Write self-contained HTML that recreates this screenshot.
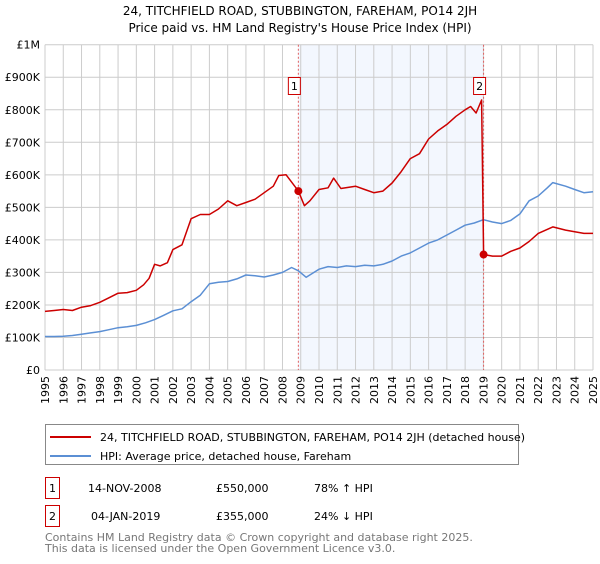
<!DOCTYPE html>
<html><head><meta charset="utf-8"><style>
body{margin:0;background:#fff;font-family:"DejaVu Sans","Liberation Sans",sans-serif;}
svg text{font-family:"DejaVu Sans","Liberation Sans",sans-serif;}
</style></head><body>
<svg id="chart" width="600" height="560" xmlns="http://www.w3.org/2000/svg">
<text x="300" y="15" text-anchor="middle" font-size="12" fill="#000">24, TITCHFIELD ROAD, STUBBINGTON, FAREHAM, PO14 2JH</text>
<text x="300" y="32" text-anchor="middle" font-size="12" fill="#000">Price paid vs. HM Land Registry's House Price Index (HPI)</text>
<g id="plot"></g>
<g>
<rect x="45.5" y="424.5" width="473" height="40" fill="#fff" stroke="#888"/>
<line x1="50" y1="437" x2="91" y2="437" stroke="#cc0000" stroke-width="2"/>
<text x="100" y="441" font-size="11">24, TITCHFIELD ROAD, STUBBINGTON, FAREHAM, PO14 2JH (detached house)</text>
<line x1="50" y1="456" x2="91" y2="456" stroke="#5b8fd4" stroke-width="2"/>
<text x="100" y="460" font-size="11">HPI: Average price, detached house, Fareham</text>
</g>
<g font-size="11">
<rect x="45.5" y="477.5" width="14" height="21" fill="#fff" stroke="#cc0000"/>
<text x="52.5" y="492" text-anchor="middle">1</text>
<text x="88" y="492">14-NOV-2008</text><text x="216" y="492">£550,000</text><text x="314" y="492">78% ↑ HPI</text>
<rect x="45.5" y="505.5" width="14" height="21" fill="#fff" stroke="#cc0000"/>
<text x="52.5" y="520" text-anchor="middle">2</text>
<text x="91" y="520">04-JAN-2019</text><text x="216" y="520">£355,000</text><text x="314" y="520">24% ↓ HPI</text>
</g>
<g font-size="11" fill="#777">
<text x="45" y="541">Contains HM Land Registry data © Crown copyright and database right 2025.</text>
<text x="45" y="552">This data is licensed under the Open Government Licence v3.0.</text>
</g>
</svg>
<script>
const hpiYears=[1995,1995.5,1996,1996.5,1997,1997.5,1998,1998.5,1999,1999.5,2000,2000.5,2001,2001.5,2002,2002.5,2003,2003.5,2004,2004.5,2005,2005.5,2006,2006.5,2007,2007.5,2008,2008.5,2008.87,2009.3,2010,2010.5,2011,2011.5,2012,2012.5,2013,2013.5,2014,2014.5,2015,2015.5,2016,2016.5,2017,2017.5,2018,2018.5,2019,2019.5,2020,2020.5,2021,2021.5,2022,2022.5,2022.8,2023.5,2024,2024.5,2025];
const hpiValues=[103,103,104,106,110,114,118,124,130,133,137,145,155,168,182,188,210,230,265,270,272,280,292,290,286,292,300,315,305,285,310,318,315,320,318,322,320,325,335,350,360,375,390,400,415,430,445,452,462,455,450,460,480,520,535,560,576,565,555,545,548];
const paidYears=[1995,1995.5,1996,1996.5,1997,1997.5,1998,1998.5,1999,1999.5,2000,2000.4,2000.7,2001,2001.3,2001.7,2002,2002.5,2003,2003.5,2004,2004.5,2005,2005.5,2006,2006.5,2007,2007.5,2007.8,2008.2,2008.87,2009.2,2009.5,2010,2010.5,2010.8,2011.2,2012,2012.5,2013,2013.5,2014,2014.5,2015,2015.5,2016,2016.5,2017,2017.5,2018,2018.3,2018.6,2018.9,2019.01,2019.5,2020,2020.5,2021,2021.5,2022,2022.8,2023.5,2024,2024.5,2025];
const paidValues=[180,183,186,183,193,198,208,222,236,238,245,262,282,325,320,330,370,385,465,478,478,495,520,505,515,525,545,565,598,600,550,505,520,555,560,590,558,565,555,545,550,575,610,650,665,710,735,755,780,800,810,790,830,355,350,350,365,375,395,420,440,430,425,420,420];
const saleYears=[2008.87,2019.01];
const saleValues=[550,355];
const saleLabels=["1","2"];
const yTicks=[0,100,200,300,400,500,600,700,800,900,1000];
const yTickLabels=["£0","£100K","£200K","£300K","£400K","£500K","£600K","£700K","£800K","£900K","£1M"];
const xTicks=[1995,1996,1997,1998,1999,2000,2001,2002,2003,2004,2005,2006,2007,2008,2009,2010,2011,2012,2013,2014,2015,2016,2017,2018,2019,2020,2021,2022,2023,2024,2025];

const L=45,R=593,T=44.7,B=370;
const xs=y=>L+(y-1995)/(2025-1995)*(R-L);
const ys=v=>B-v/1000*(B-T);
const NS="http://www.w3.org/2000/svg";
const g=document.getElementById('plot');
function mk(tag,attrs,parent){const e=document.createElementNS(NS,tag);for(const k in attrs)e.setAttribute(k,attrs[k]);(parent||g).appendChild(e);return e;}

let e=mk('rect',{x:xs(saleYears[0]),y:T,width:xs(saleYears[1])-xs(saleYears[0]),height:B-T,fill:'#eef3fd',opacity:0.7});


yTicks.forEach((v,i)=>{
  let l=mk('line',{x1:L,x2:R,y1:ys(v),y2:ys(v),stroke:'#cccccc','stroke-width':1});
  
  
  let t=mk('text',{x:L-5,y:ys(v)+4,'text-anchor':'end','font-size':11,fill:'#000'});
  t.textContent=yTickLabels[i];
  
  
});
xTicks.forEach(y=>{
  let l=mk('line',{x1:xs(y),x2:xs(y),y1:T,y2:B,stroke:'#cccccc','stroke-width':1});
  
  
  let t=mk('text',{x:0,y:0,'text-anchor':'end','font-size':11,fill:'#000',transform:`translate(${xs(y)+4},${B+6}) rotate(-90)`});
  t.textContent=y;
  
  
});
saleYears.forEach((y,i)=>{
  let l=mk('line',{x1:xs(y),x2:xs(y),y1:T,y2:B,stroke:'#e06060','stroke-width':1,'stroke-dasharray':'2,2'});
  
  
});
function path(xa,va,color,name){
  const d=xa.map((x,i)=>(i?'L':'M')+xs(x).toFixed(1)+','+ys(va[i]).toFixed(1)).join(' ');
  let p=mk('path',{d:d,fill:'none',stroke:color,'stroke-width':1.5,'stroke-linejoin':'round'});
  
  
}
path(hpiYears,hpiValues,'#5b8fd4','hpi-line');
path(paidYears,paidValues,'#cc0000','price-paid-line');
saleYears.forEach((y,i)=>{
  let c=mk('circle',{cx:xs(y),cy:ys(saleValues[i]),r:4,fill:'#cc0000'});
  
  
  let bx=xs(y)-10;
  let r=mk('rect',{x:bx,y:77.5,width:12,height:17,fill:'#fff',stroke:'#cc0000'});
  
  
  let t=mk('text',{x:bx+6,y:90,'text-anchor':'middle','font-size':11,fill:'#000'});
  t.textContent=saleLabels[i];
  
  
});
</script>
</body></html>
